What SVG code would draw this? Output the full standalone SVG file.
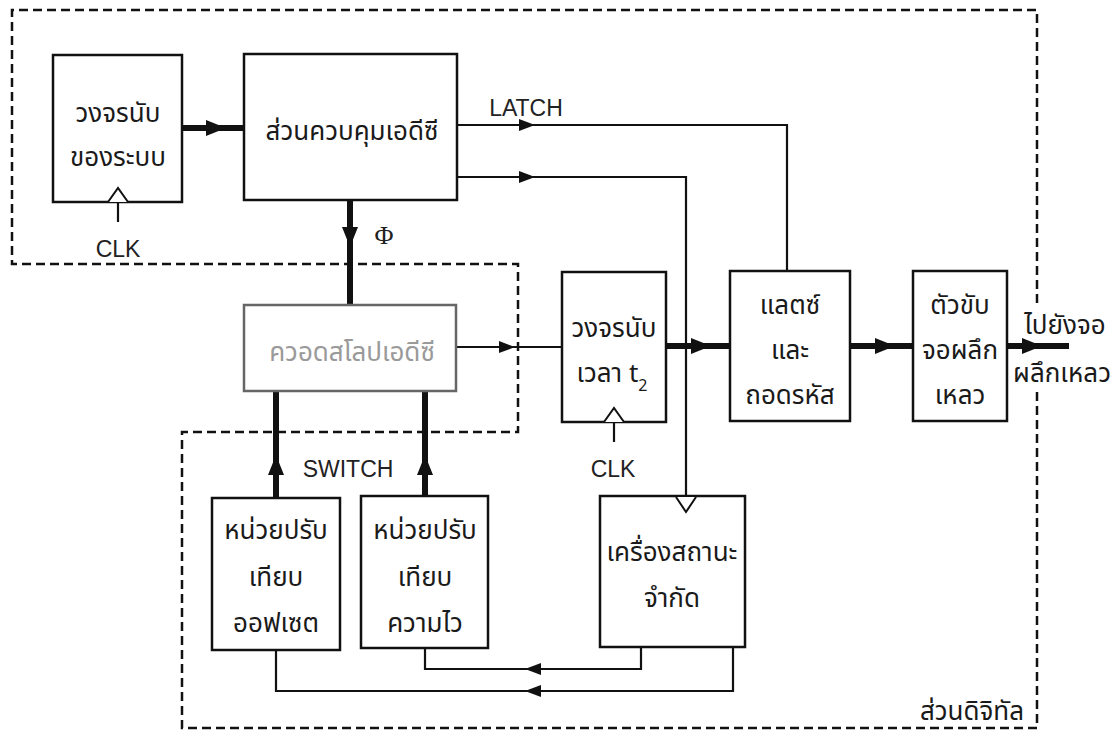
<svg xmlns="http://www.w3.org/2000/svg" width="1117" height="736" viewBox="0 0 1117 736">
<style>
.box{fill:#fff;stroke:#111;stroke-width:2.5}
.gbox{fill:#fff;stroke:#666;stroke-width:2.5}
.th{font-family:"Noto Sans Thai","Noto Sans Thai Looped","Loma","Garuda","Noto Sans",sans-serif;font-size:26px;fill:#1a1a1a;text-anchor:middle}
.gth{fill:#9a9a9a}
.en{font-family:"Liberation Sans",Arial,sans-serif;font-size:23px;fill:#222;text-anchor:middle}
.thin{fill:none;stroke:#111;stroke-width:2.2}
.thick{fill:none;stroke:#111;stroke-width:6}
.dash{fill:none;stroke:#111;stroke-width:2.5;stroke-dasharray:9 5}
.clk{fill:#fff;stroke:#111;stroke-width:2}
</style>
<defs>
<marker id="a" markerUnits="userSpaceOnUse" markerWidth="17" markerHeight="12" refX="16" refY="6" orient="auto"><path d="M0,0 L16,6 L0,12 z" fill="#111"/></marker>
<marker id="A" markerUnits="userSpaceOnUse" markerWidth="21" markerHeight="16" refX="20" refY="8" orient="auto"><path d="M0,0 L20,8 L0,16 z" fill="#111"/></marker>
</defs>
<rect width="1117" height="736" fill="#fff"/>

<g id="boundary">
<path class="dash" d="M1037,392 V728 H182 V432 H518 V264 H12 V10 H1037 V303"/>
<text class="th" x="972" y="720">ส่วนดิจิทัล</text>
</g>

<g id="connectors">
<path class="thick" d="M182,128 H226" marker-end="url(#A)"/>
<path class="thick" d="M223,128 H244"/>
<path class="thin" d="M457,125 H535" marker-end="url(#a)"/>
<path class="thin" d="M532,125 H787 V271"/>
<text class="en" x="526" y="116">LATCH</text>
<path class="thin" d="M457,177 H535" marker-end="url(#a)"/>
<path class="thin" d="M532,177 H686 V496"/>
<path class="thick" d="M350,200 V247" marker-end="url(#A)"/>
<path class="thick" d="M350,244 V305"/>
<text x="384" y="244" style="font-family:'Liberation Serif','Times New Roman',serif;font-size:26px;fill:#222;text-anchor:middle">Φ</text>
<path class="thin" d="M457,347 H515" marker-end="url(#a)"/>
<path class="thin" d="M512,347 H562"/>
<path class="thick" d="M276,497 V455" marker-end="url(#A)"/>
<path class="thick" d="M276,458 V391"/>
<path class="thick" d="M425,496 V455" marker-end="url(#A)"/>
<path class="thick" d="M425,458 V391"/>
<text class="en" x="348" y="477">SWITCH</text>
<path class="thick" d="M666,346 H711" marker-end="url(#A)"/>
<path class="thick" d="M708,346 H730"/>
<path class="thick" d="M850,346 H895" marker-end="url(#A)"/>
<path class="thick" d="M892,346 H913"/>
<path class="thick" d="M1007,346 H1042" marker-end="url(#A)"/>
<path class="thick" d="M1039,346 H1069"/>
<text class="th" x="1065" y="334">ไปยังจอ</text>
<text class="th" x="1062" y="382">ผลึกเหลว</text>
<path class="thin" d="M641,647 V669 H525" marker-end="url(#a)"/>
<path class="thin" d="M528,669 H425 V648"/>
<path class="thin" d="M733,647 V691 H525" marker-end="url(#a)"/>
<path class="thin" d="M528,691 H276 V650"/>
</g>

<g id="system-counter">
<rect class="box" x="53" y="55" width="129" height="147"/>
<text class="th" x="118" y="122">วงจรนับ</text>
<text class="th" x="118" y="166">ของระบบ</text>
<path class="clk" d="M108,202 L118,188 L128,202"/>
<path class="thin" d="M118,202 V222"/>
<text class="en" x="118" y="257">CLK</text>
</g>

<g id="adc-control">
<rect class="box" x="244" y="54" width="213" height="146"/>
<text class="th" x="352" y="140">ส่วนควบคุมเอดีซี</text>
</g>

<g id="slope-adc">
<rect class="gbox" x="244" y="305" width="212" height="86"/>
<text class="th gth" x="352" y="361">ควอดสโลปเอดีซี</text>
</g>

<g id="t2-counter">
<rect class="box" x="562" y="272" width="104" height="150"/>
<text class="th" x="614" y="337">วงจรนับ</text>
<text class="th" x="612" y="382">เวลา t<tspan font-size="16" dy="9">2</tspan></text>
<path class="clk" d="M604,422 L614,408 L624,422"/>
<path class="thin" d="M614,422 V442"/>
<text class="en" x="613" y="477">CLK</text>
</g>

<g id="latch-decoder">
<rect class="box" x="730" y="271" width="120" height="150"/>
<text class="th" x="790" y="314">แลตซ์</text>
<text class="th" x="790" y="359">และ</text>
<text class="th" x="790" y="404">ถอดรหัส</text>
</g>

<g id="lcd-driver">
<rect class="box" x="913" y="271" width="94" height="150"/>
<text class="th" x="960" y="314">ตัวขับ</text>
<text class="th" x="960" y="359">จอผลึก</text>
<text class="th" x="960" y="404">เหลว</text>
</g>

<g id="offset-cal">
<rect class="box" x="212" y="498" width="128" height="152"/>
<text class="th" x="276" y="539">หน่วยปรับ</text>
<text class="th" x="276" y="586">เทียบ</text>
<text class="th" x="276" y="632">ออฟเซต</text>
</g>

<g id="sensitivity-cal">
<rect class="box" x="361" y="496" width="127" height="152"/>
<text class="th" x="425" y="539">หน่วยปรับ</text>
<text class="th" x="425" y="586">เทียบ</text>
<text class="th" x="425" y="632">ความไว</text>
</g>

<g id="state-machine">
<rect class="box" x="600" y="496" width="145" height="151"/>
<path class="clk" d="M676,497 L686,512 L696,497"/>
<text class="th" x="672" y="561">เครื่องสถานะ</text>
<text class="th" x="672" y="607">จำกัด</text>
</g>
</svg>
